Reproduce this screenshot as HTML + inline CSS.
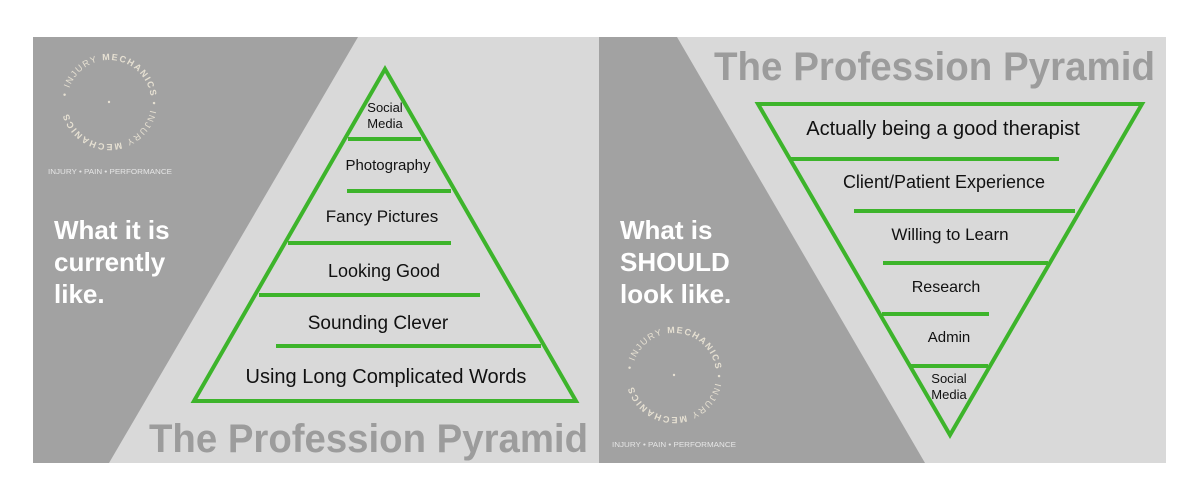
<!DOCTYPE html>
<html><head><meta charset="utf-8"><style>
html,body{margin:0;padding:0;background:#fff;}
svg{display:block;font-family:"Liberation Sans",sans-serif;}
</style></head><body>
<svg width="1200" height="491" viewBox="0 0 1200 491" xmlns="http://www.w3.org/2000/svg">
<defs>
<path id="c1" d="M109,102 m-42,0 a42,42 0 1,1 84,0 a42,42 0 1,1 -84,0"/>
<path id="c2" d="M674,375 m-42,0 a42,42 0 1,1 84,0 a42,42 0 1,1 -84,0"/>
</defs>
<rect width="1200" height="491" fill="#fff"/>
<rect x="33" y="37" width="566" height="426" fill="#d9d9d9"/>
<polygon points="33,37 358,37 109,463 33,463" fill="#a2a2a2"/>
<rect x="599" y="37" width="567" height="426" fill="#d9d9d9"/>
<polygon points="599,37 677,37 925,463 599,463" fill="#a2a2a2"/>

<g fill="#e6e0d2" font-size="9" letter-spacing="1.5">
<text><textPath href="#c1" startOffset="2%">• INJURY <tspan font-weight="bold">MECHANICS</tspan> • INJURY <tspan font-weight="bold">MECHANICS</tspan></textPath></text>
<circle cx="109" cy="102" r="1.2"/>
</g>
<text x="48" y="174" font-size="7" fill="#e6e6e6" textLength="124" lengthAdjust="spacingAndGlyphs">INJURY • PAIN • PERFORMANCE</text>
<g fill="#fff" font-weight="bold" font-size="26">
<text x="54" y="239">What it is</text>
<text x="54" y="271">currently</text>
<text x="54" y="303">like.</text>
</g>

<g stroke="#3db42b" stroke-width="4" fill="none">
<polygon points="385,69 194,401 576,401"/>
<line x1="348" y1="139" x2="421" y2="139"/>
<line x1="347" y1="191" x2="451" y2="191"/>
<line x1="288" y1="243" x2="451" y2="243"/>
<line x1="259" y1="295" x2="480" y2="295"/>
<line x1="276" y1="346" x2="541" y2="346"/>
</g>
<g fill="#111" text-anchor="middle">
<text x="385" y="112" font-size="13">Social</text>
<text x="385" y="128" font-size="13">Media</text>
<text x="388" y="170" font-size="15">Photography</text>
<text x="382" y="222" font-size="17">Fancy Pictures</text>
<text x="384" y="277" font-size="18">Looking Good</text>
<text x="378" y="329" font-size="19">Sounding Clever</text>
<text x="386" y="383" font-size="20">Using Long Complicated Words</text>
</g>
<text x="149" y="452" font-size="40" font-weight="bold" fill="#9c9c9c" textLength="439" lengthAdjust="spacingAndGlyphs">The Profession Pyramid</text>

<text x="714" y="80" font-size="40" font-weight="bold" fill="#9c9c9c" textLength="441" lengthAdjust="spacingAndGlyphs">The Profession Pyramid</text>
<g fill="#fff" font-weight="bold" font-size="26">
<text x="620" y="239">What is</text>
<text x="620" y="271">SHOULD</text>
<text x="620" y="303">look like.</text>
</g>
<g fill="#e6e0d2" font-size="9" letter-spacing="1.5">
<text><textPath href="#c2" startOffset="2%">• INJURY <tspan font-weight="bold">MECHANICS</tspan> • INJURY <tspan font-weight="bold">MECHANICS</tspan></textPath></text>
<circle cx="674" cy="375" r="1.2"/>
</g>
<text x="612" y="447" font-size="7" fill="#e6e6e6" textLength="124" lengthAdjust="spacingAndGlyphs">INJURY • PAIN • PERFORMANCE</text>

<g stroke="#3db42b" stroke-width="4" fill="none">
<polygon points="758,104 1142,104 950,435"/>
<line x1="791" y1="159" x2="1059" y2="159"/>
<line x1="854" y1="211" x2="1075" y2="211"/>
<line x1="883" y1="263" x2="1048" y2="263"/>
<line x1="882" y1="314" x2="989" y2="314"/>
<line x1="911" y1="366" x2="988" y2="366"/>
</g>
<g fill="#111" text-anchor="middle">
<text x="943" y="135" font-size="20">Actually being a good therapist</text>
<text x="944" y="188" font-size="18">Client/Patient Experience</text>
<text x="950" y="240" font-size="17">Willing to Learn</text>
<text x="946" y="292" font-size="16">Research</text>
<text x="949" y="342" font-size="15">Admin</text>
<text x="949" y="383" font-size="13">Social</text>
<text x="949" y="399" font-size="13">Media</text>
</g>
</svg>
</body></html>
